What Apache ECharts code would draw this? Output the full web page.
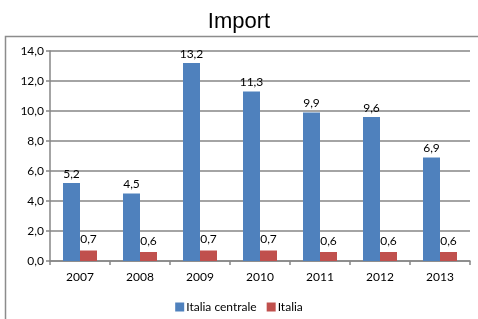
<!DOCTYPE html>
<html>
<head>
<meta charset="utf-8">
<script src="https://cdn.jsdelivr.net/npm/echarts@6/dist/echarts.min.js"></script>
<style>
    html, body { margin: 0; padding: 0; background: #fff; }
    #chart { width: 478px; height: 319px; }
</style>
</head>
<body>
<div id="chart"></div>
<script>
// data
const years = ['2007', '2008', '2009', '2010', '2011', '2012', '2013']
const italiaCentrale = [5.2, 4.5, 13.2, 11.3, 9.9, 9.6, 6.9]
const italia = [0.7, 0.6, 0.7, 0.7, 0.6, 0.6, 0.6]
const seriesNames = ['Italia centrale', 'Italia']

const fmt = (v) => v.toFixed(1).replace('.', ',')
const font = 'Lato, "Liberation Sans", Arial, sans-serif'

const myChart = echarts.init(document.getElementById('chart'))
const option = {
    animation: false,
    textStyle: { fontFamily: font },
    title: {
        text: 'Import',
        left: 'center',
        top: 6,
        textStyle: { fontSize: 22, fontWeight: 'normal', color: '#000', fontFamily: '"Liberation Sans", Arial, sans-serif' },
    },
    graphic: [
        {
            type: 'rect',
            shape: { x: 5.5, y: 36.5, width: 480, height: 300 },
            style: { fill: 'none', stroke: '#8c8c8c', lineWidth: 1.5 },
        },
    ],
    legend: {
        bottom: 1,
        left: 'center',
        itemWidth: 9,
        itemHeight: 9,
        itemGap: 10,
        icon: 'rect',
        textStyle: { fontSize: 12, color: '#000', padding: [0, 0, 0, -3], fontFamily: font },
        data: seriesNames,
    },
    grid: { left: 50, right: 8, top: 51, bottom: 58, containLabel: false },
    xAxis: {
        type: 'category',
        data: years,
        axisLine: { lineStyle: { color: '#868686', width: 1.5 } },
        axisTick: { show: true, length: 4, lineStyle: { color: '#868686', width: 1.5 } },
        axisLabel: { color: '#000', fontSize: 12, margin: 10, fontFamily: font },
    },
    yAxis: {
        type: 'value',
        min: 0,
        max: 14,
        interval: 2,
        axisLine: { show: true, lineStyle: { color: '#868686', width: 1.5 } },
        axisTick: { show: true, length: 4, lineStyle: { color: '#868686', width: 1.5 } },
        axisLabel: { color: '#000', fontSize: 12, margin: 6, fontFamily: font, formatter: (v) => fmt(v) },
        splitLine: { lineStyle: { color: '#868686', width: 1.5 } },
    },
    series: [
        {
            name: seriesNames[0],
            type: 'bar',
            data: italiaCentrale,
            barWidth: 17,
            barGap: '0%',
            itemStyle: { color: '#4F81BD' },
            label: { show: true, position: 'top', color: '#000', fontSize: 12, distance: 3, fontFamily: font, formatter: (p) => fmt(p.value) },
        },
        {
            name: seriesNames[1],
            type: 'bar',
            data: italia,
            barWidth: 17,
            barGap: '0%',
            itemStyle: { color: '#C0504D' },
            label: { show: true, position: 'top', color: '#000', fontSize: 12, distance: 5, fontFamily: font, formatter: (p) => fmt(p.value) },
        },
    ],
}
myChart.setOption(option)
</script>
</body>
</html>
